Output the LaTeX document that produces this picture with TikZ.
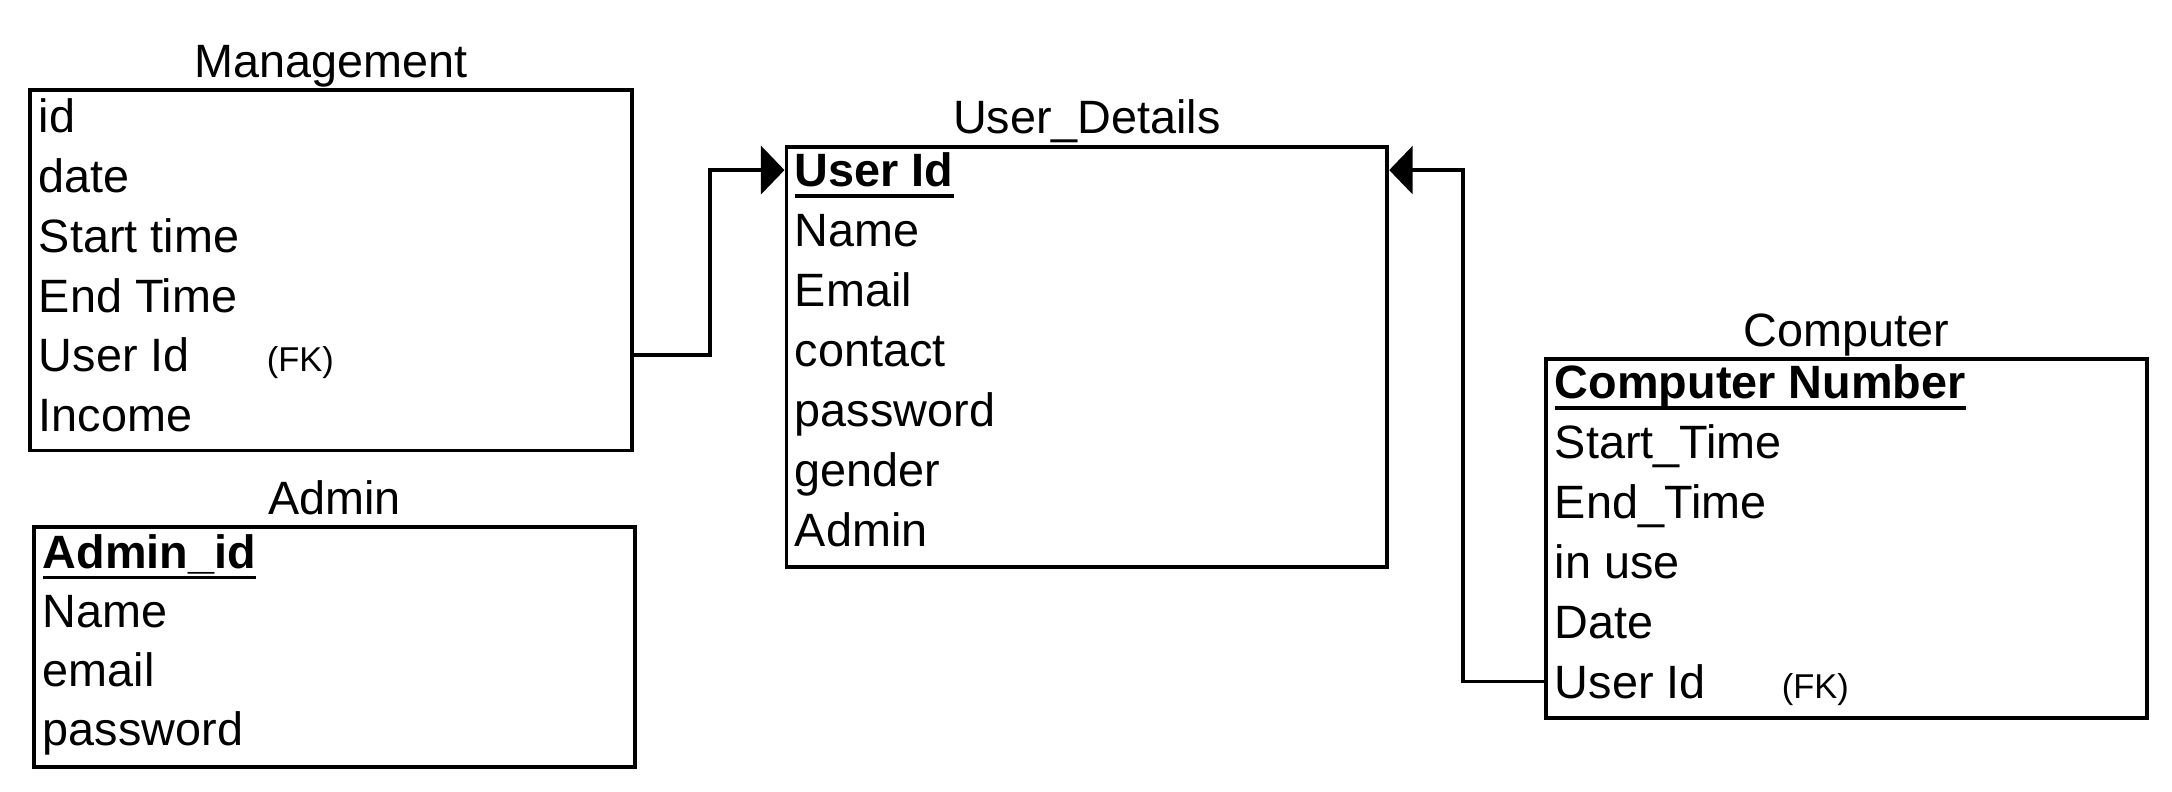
\documentclass[tikz,border=0pt]{standalone}
\usepackage{fontspec}
\setmainfont{Liberation Sans}
\usetikzlibrary{arrows.meta}
\newcommand{\pkey}[1]{\setbox0\hbox{\bfseries #1}\rlap{\rule[-3.1pt]{\wd0}{1pt}}\box0}

\begin{document}
\begin{tikzpicture}[x=0.01cm, y=-0.01cm, line width=1.1pt,
    every node/.style={font=\fontsize{13.3pt}{16pt}\selectfont},
    tbl/.style={draw, rectangle, anchor=north west, inner sep=0pt},
    title/.style={anchor=base},
    row/.style={anchor=west, inner sep=0pt, text height=0.336cm, text depth=0pt},
    fk/.style={anchor=base west, inner sep=0pt, font=\fontsize{9.8pt}{12pt}\selectfont},
    link/.style={line width=1pt, -{Triangle[length=0.235cm,width=0.48cm]}}]
    \useasboundingbox (0,0) rectangle (2172,792);

    % Management table
    \node[tbl, minimum width=6.02cm, minimum height=3.6cm] (mgmt) at (28,88.4) {};
    \node[title] (mgmt-title) at ([yshift=0.11cm]mgmt.north) {Management};
    \foreach \t [count=\i] in {id, date, Start time, End Time, User Id, Income}
        \node[row] (mgmt-\i) at (37,{115.5+(\i-1)*59.9}) {\t};
    \node[fk] (mgmt-fk) at (265,371.9) {(FK)};

    % Admin table
    \node[tbl, minimum width=6.01cm, minimum height=2.4cm] (admin) at (32,525.3) {};
    \node[title] (admin-title) at ([yshift=0.11cm]admin.north) {Admin};
    \foreach \t [count=\i] in {\pkey{Admin\_id}, Name, email, password}
        \node[row] (admin-\i) at (41,{551.4+(\i-1)*59}) {\t};

    % User_Details table
    \node[tbl, minimum width=6.005cm, minimum height=4.197cm] (user) at (784.5,145) {};
    \node[title] (user-title) at ([yshift=0.11cm]user.north) {User\_Details};
    \foreach \t [count=\i] in {\pkey{User Id}, Name, Email, contact, password, gender, Admin}
        \node[row] (user-\i) at (793,{170.1+(\i-1)*60}) {\t};

    % Computer table
    \node[tbl, minimum width=6.01cm, minimum height=3.591cm] (comp) at (1544,357.1) {};
    \node[title] (comp-title) at ([yshift=0.11cm]comp.north) {Computer};
    \foreach \t [count=\i] in {\pkey{Computer Number}, Start\_Time, End\_Time, in use, Date, User Id}
        \node[row] (comp-\i) at (1553,{382.2+(\i-1)*59.9}) {\t};
    \node[fk] (comp-fk) at (1780,698.5) {(FK)};

    % Foreign keys
    \draw[link] (mgmt.east |- mgmt-5) -- ++(76,0) |- (user.west |- user-1);
    \draw[link] (comp.west |- comp-6) -- ++(-81,0) |- (user.east |- user-1);
\end{tikzpicture}
\end{document}
